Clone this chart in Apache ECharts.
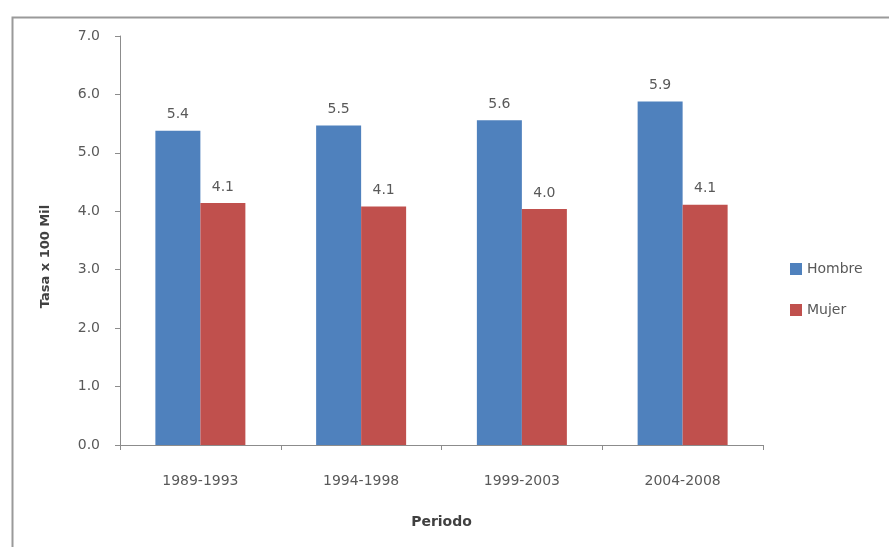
<!DOCTYPE html>
<html>
<head>
<meta charset="utf-8">
<script src="https://cdn.jsdelivr.net/npm/echarts@6/dist/echarts.min.js"></script>
<style>
html,body{margin:0;padding:0;background:#fff;}
#chart{width:889px;height:547px;}
</style>
</head>
<body>
<div id="chart"></div>
<script>
var categories = ['1989-1993', '1994-1998', '1999-2003', '2004-2008'];
var hombre = [5.38, 5.47, 5.56, 5.88];
var mujer = [4.14, 4.08, 4.04, 4.11];
var seriesNames = ['Hombre', 'Mujer'];
var yTicks = ['0.0','1.0','2.0','3.0','4.0','5.0','6.0','7.0'];

var font = 'DejaVu Sans';
var chart = echarts.init(document.getElementById('chart'));
var labelCfg = {
  show: true, position: 'top', distance: 9,
  fontFamily: font, fontSize: 14, color: '#595959',
  formatter: function (p) { return p.value.toFixed(1); }
};
chart.setOption({
  animation: false,
  backgroundColor: '#fff',
  graphic: [{
    type: 'rect', silent: true,
    shape: { x: 12.5, y: 17.5, width: 1000, height: 1000 },
    style: { fill: 'none', stroke: '#9a9a9a', lineWidth: 2 }
  }],
  grid: { left: 120, right: 126, top: 36, bottom: 102 },
  legend: {
    orient: 'vertical', left: 785, top: 257,
    itemWidth: 12, itemHeight: 12, itemGap: 27, icon: 'rect',
    textStyle: { fontFamily: font, fontSize: 14, color: '#595959' },
    data: seriesNames
  },
  xAxis: {
    type: 'category', data: categories,
    name: 'Periodo', nameLocation: 'middle', nameGap: 70,
    nameTextStyle: { fontFamily: font, fontSize: 14, fontWeight: 'bold', color: '#404040' },
    axisLine: { lineStyle: { color: '#8c8c8c', width: 1 } },
    axisTick: { show: true, length: 5, lineStyle: { color: '#8c8c8c' } },
    axisLabel: { margin: 29, fontFamily: font, fontSize: 14, color: '#595959' }
  },
  yAxis: {
    type: 'value', min: 0, max: 7, interval: 1,
    name: 'Tasa x 100 Mil', nameLocation: 'middle', nameGap: 68, nameRotate: 90,
    nameTextStyle: { fontFamily: font, fontSize: 13, fontWeight: 'bold', color: '#404040',
      padding: [0, 32, 0, 0] },
    axisLine: { show: true, lineStyle: { color: '#8c8c8c', width: 1 } },
    axisTick: { show: true, length: 5, lineStyle: { color: '#8c8c8c' } },
    splitLine: { show: false },
    axisLabel: {
      margin: 20, fontFamily: font, fontSize: 14, color: '#595959',
      formatter: function (v) { return yTicks[Math.round(v)]; }
    }
  },
  series: [
    { name: seriesNames[0], type: 'bar', data: hombre, barWidth: 45, barGap: '0%',
      itemStyle: { color: '#4F81BD' }, label: labelCfg },
    { name: seriesNames[1], type: 'bar', data: mujer, barWidth: 45, barGap: '0%',
      itemStyle: { color: '#C0504D' }, label: labelCfg }
  ]
});
</script>
</body>
</html>
